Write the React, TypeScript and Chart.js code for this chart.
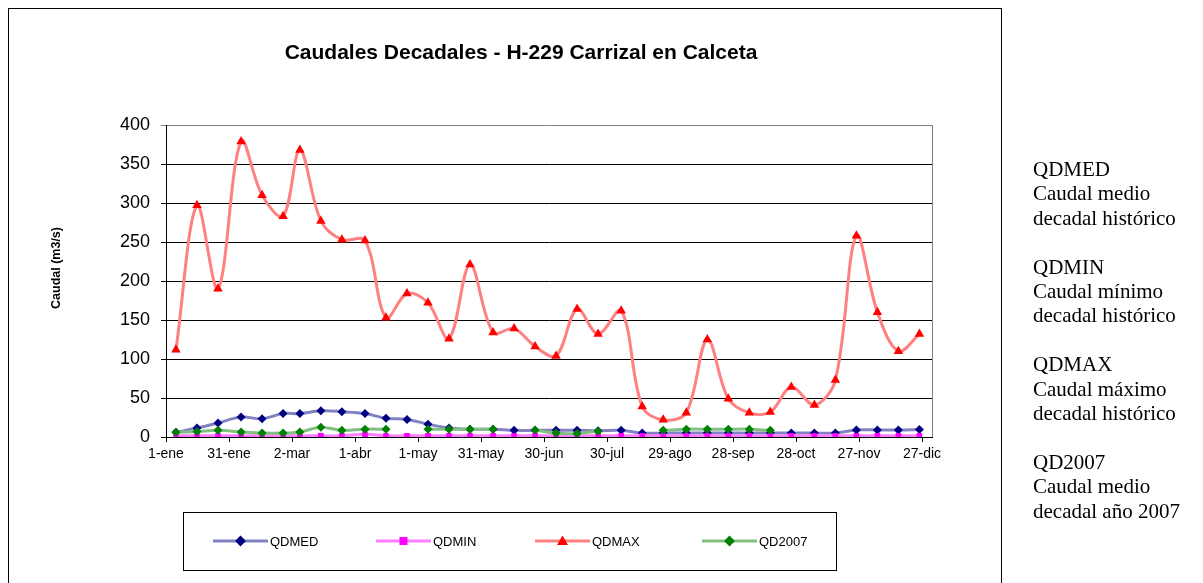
import React, { useEffect, useRef } from "react";
import { Chart, registerables } from "chart.js";

Chart.register(...registerables);

// ---------- data ----------
const MONTHS = ["ene", "feb", "mar", "abr", "may", "jun", "jul", "ago", "sep", "oct", "nov", "dic"];
const MONTH_DAYS = [31, 28, 31, 30, 31, 30, 31, 31, 30, 31, 30, 31];

const DECADES = [
  "1-ene", "11-ene", "21-ene", "1-feb", "11-feb", "21-feb", "1-mar", "11-mar", "21-mar",
  "1-abr", "11-abr", "21-abr", "1-may", "11-may", "21-may", "1-jun", "11-jun", "21-jun",
  "1-jul", "11-jul", "21-jul", "1-ago", "11-ago", "21-ago", "1-sep", "11-sep", "21-sep",
  "1-oct", "11-oct", "21-oct", "1-nov", "11-nov", "21-nov", "1-dic", "11-dic", "21-dic",
];

const TICK_LABELS = [
  "1-ene", "31-ene", "2-mar", "1-abr", "1-may", "31-may", "30-jun",
  "30-jul", "29-ago", "28-sep", "28-oct", "27-nov", "27-dic",
];

const QDMED = [6, 11.5, 18, 25.5, 23.5, 30, 30, 33.5, 32.5, 30, 24, 22.5, 16.5, 11.5, 10, 10, 8.5, 8.5,
  8.5, 8.5, 8, 8.5, 5, 5, 5, 5, 5, 5, 5, 5, 5, 5, 9, 9, 9, 9.5];
const QDMIN = [1.5, 1.5, 1.5, 1.5, 1.5, 1.5, 1.5, 1.5, 1.5, 3.5, 1.5, 1.5, 1.5, 1.5, 1.5, 1.5, 1.5, 1.5,
  1.5, 1.5, 1.5, 1.5, 1.5, 1.5, 1.5, 1.5, 1.5, 1.5, 1.5, 1.5, 1.5, 1.5, 1.5, 1.5, 1.5, 1.5];
const QDMAX = [112, 297, 190, 379, 310, 283, 368, 277, 253, 252, 153, 184, 172, 126, 221, 134, 139, 116,
  104, 164, 132, 162, 39, 22, 31, 125, 49, 31, 32, 64, 41, 73, 258, 160, 110, 132];
const QD2007 = [6, 7, 8.5, 6.5, 5, 5, 6.5, 12.5, 8.5, 10, 10, null, 10, 10, 10, 10, null, 9,
  5, 4.5, 7.5, null, null, 8.5, 10, 10, 10, 10, 8.5, null, null, null, null, null, null, null];

const SIDE_NOTES = [
  ["QDMED", "Caudal medio", "decadal histórico"],
  ["QDMIN", "Caudal mínimo", "decadal histórico"],
  ["QDMAX", "Caudal máximo", "decadal histórico"],
  ["QD2007", "Caudal medio", "decadal año 2007"],
];

const TITLE = "Caudales Decadales - H-229 Carrizal en Calceta";
const Y_TITLE = "Caudal (m3/s)";

// ---------- helpers ----------
function dayOfYear(label: string): number {
  const [d, m] = label.split("-");
  const mi = MONTHS.indexOf(m);
  let n = 0;
  for (let i = 0; i < mi; i++) n += MONTH_DAYS[i];
  return n + Number(d) - 1;
}

const X_MIN = -4.75; // Excel date axis: points sit half a unit right of the first label
const X_MAX = 360;
const TICK_STEP = 30;

const FONT = "'Liberation Sans', Arial, sans-serif";

const toPoints = (vals: (number | null)[]) =>
  DECADES.map((d, i) => ({ x: dayOfYear(d), y: vals[i] as any }));

const SERIES = [
  { label: "QDMED", data: QDMED, line: "#8282C2", marker: "#000080", style: "rectRot", r: 4.5, order: 3 },
  { label: "QDMIN", data: QDMIN, line: "#FF80FF", marker: "#FF00FF", style: "rect", r: 4, order: 2 },
  { label: "QDMAX", data: QDMAX, line: "#FF8080", marker: "#FF0000", style: "triangle", r: 5.5, order: 1 },
  { label: "QD2007", data: QD2007, line: "#80C080", marker: "#008000", style: "rectRot", r: 4.5, order: 0 },
];

function drawMarker(ctx: CanvasRenderingContext2D, style: string, x: number, y: number, r: number, color: string) {
  ctx.save();
  ctx.fillStyle = color;
  ctx.beginPath();
  if (style === "rect") {
    ctx.rect(x - r, y - r, 2 * r, 2 * r);
  } else if (style === "rectRot") {
    ctx.moveTo(x, y - r * 1.2);
    ctx.lineTo(x + r * 1.2, y);
    ctx.lineTo(x, y + r * 1.2);
    ctx.lineTo(x - r * 1.2, y);
    ctx.closePath();
  } else {
    const h = r * 1.6;
    ctx.moveTo(x, y - h / 1.6);
    ctx.lineTo(x + r, y + h / 2.2);
    ctx.lineTo(x - r, y + h / 2.2);
    ctx.closePath();
  }
  ctx.fill();
  ctx.restore();
}

const decorPlugin = {
  id: "decor",
  afterDraw(chart: any) {
    const ctx: CanvasRenderingContext2D = chart.ctx;
    const area = chart.chartArea;
    ctx.save();
    // outer frame
    ctx.strokeStyle = "#000";
    ctx.lineWidth = 1;
    ctx.strokeRect(8.5, 8.5, 993, 620);
    // plot area right border
    ctx.strokeStyle = "#808080";
    ctx.beginPath();
    ctx.moveTo(Math.round(area.right) + 0.5, area.top);
    ctx.lineTo(Math.round(area.right) + 0.5, area.bottom);
    ctx.stroke();
    // title
    ctx.fillStyle = "#000";
    ctx.font = `bold 21px ${FONT}`;
    ctx.textAlign = "center";
    ctx.textBaseline = "middle";
    ctx.fillText(TITLE, 521, 53);
    // y-axis title
    ctx.save();
    ctx.translate(57, 268);
    ctx.rotate(-Math.PI / 2);
    ctx.font = `bold 12.5px ${FONT}`;
    ctx.fillText(Y_TITLE, 0, 0);
    ctx.restore();
    // legend
    ctx.strokeStyle = "#000";
    ctx.strokeRect(183.5, 512.5, 653, 58);
    const starts = [213, 376, 535, 702];
    const ly = 541;
    ctx.font = `13px ${FONT}`;
    ctx.textAlign = "left";
    SERIES.forEach((s, i) => {
      const x0 = starts[i];
      const x1 = x0 + 55;
      ctx.strokeStyle = s.line;
      ctx.lineWidth = 3;
      ctx.beginPath();
      ctx.moveTo(x0, ly);
      ctx.lineTo(x1, ly);
      ctx.stroke();
      drawMarker(ctx, s.style, (x0 + x1) / 2, ly, s.r, s.marker);
      ctx.fillStyle = "#000";
      ctx.fillText(s.label, x1 + 2, ly + 1);
    });
    ctx.restore();
  },
};

export default function App() {
  const ref = useRef<HTMLCanvasElement>(null);

  useEffect(() => {
    const chart = new Chart(ref.current as HTMLCanvasElement, {
      type: "line",
      data: {
        datasets: SERIES.map((s) => ({
          label: s.label,
          data: toPoints(s.data),
          borderColor: s.line,
          backgroundColor: s.marker,
          borderWidth: 3,
          pointStyle: s.style as any,
          pointRadius: s.r,
          pointBackgroundColor: s.marker,
          pointBorderColor: s.marker,
          pointBorderWidth: 0,
          tension: 0.35,
          spanGaps: false,
          fill: false,
          order: s.order,
        })),
      },
      options: {
        animation: false,
        responsive: false,
        events: [],
        layout: { padding: { left: 66, right: 271, top: 125, bottom: 116 } },
        plugins: {
          legend: { display: false },
          title: { display: false },
          tooltip: { enabled: false },
        },
        scales: {
          x: {
            type: "linear",
            min: X_MIN,
            max: X_MAX,
            afterBuildTicks: (s: any) => {
              s.ticks = TICK_LABELS.map((_, i) => ({ value: X_MIN + TICK_STEP * i }));
            },
            afterFit: (s: any) => {
              s.height = 30;
            },
            ticks: {
              autoSkip: false,
              maxRotation: 0,
              minRotation: 0,
              padding: 4,
              color: "#000",
              font: { family: FONT, size: 14 },
              callback: (_v: any, i: number) => TICK_LABELS[i],
            },
            grid: { drawOnChartArea: false, drawTicks: true, tickLength: 5, color: "#000" },
            border: { color: "#000", width: 1 },
          },
          y: {
            min: 0,
            max: 400,
            afterFit: (s: any) => {
              s.width = 100;
            },
            ticks: {
              stepSize: 50,
              padding: 11,
              color: "#000",
              font: { family: FONT, size: 18 },
            },
            grid: {
              tickLength: 5,
              color: (c: any) => (c.tick && c.tick.value === 400 ? "#808080" : "#000"),
            },
            border: { color: "#000", width: 1 },
          },
        },
      },
      plugins: [decorPlugin],
    });
    return () => chart.destroy();
  }, []);

  return (
    <div style={{ position: "fixed", left: 0, top: 0, width: 1203, height: 583, background: "#fff", overflow: "hidden" }}>
      <canvas ref={ref} width={1203} height={583} style={{ display: "block", width: 1203, height: 583 }} />
      <div style={{ position: "absolute", left: 1033, top: 157, fontFamily: "'Liberation Serif', 'Times New Roman', serif", fontSize: 21, lineHeight: "24.4px", color: "#000" }}>
        {SIDE_NOTES.map((lines, i) => (
          <div key={i} style={{ marginBottom: i < SIDE_NOTES.length - 1 ? 24.4 : 0 }}>
            {lines.map((l, j) => (
              <div key={j} style={{ whiteSpace: "nowrap" }}>{l}</div>
            ))}
          </div>
        ))}
      </div>
    </div>
  );
}
